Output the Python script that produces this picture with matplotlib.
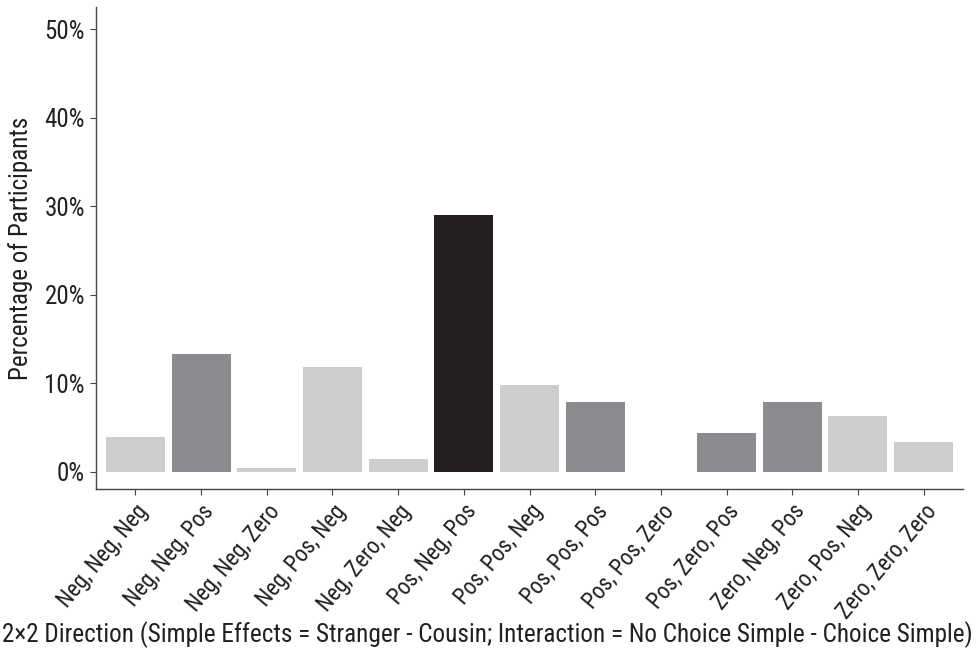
import matplotlib
matplotlib.use("Agg")
import matplotlib.pyplot as plt
from matplotlib.ticker import FuncFormatter

plt.rcParams["font.family"] = ["Roboto Condensed", "DejaVu Sans"]

categories = ["Neg, Neg, Neg", "Neg, Neg, Pos", "Neg, Neg, Zero", "Neg, Pos, Neg",
              "Neg, Zero, Neg", "Pos, Neg, Pos", "Pos, Pos, Neg", "Pos, Pos, Pos",
              "Pos, Pos, Zero", "Pos, Zero, Pos", "Zero, Neg, Pos", "Zero, Pos, Neg",
              "Zero, Zero, Zero"]
values = [3.9, 13.3, 0.45, 11.8, 1.4, 29.0, 9.8, 7.9, 0.0, 4.4, 7.9, 6.35, 3.4]
groups = ["light", "mid", "light", "light", "light", "dark", "light", "mid",
          "light", "mid", "mid", "light", "light"]
palette = {"light": "#cccdcf", "mid": "#8b8c90", "dark": "#231f20"}
yticks = [0, 10, 20, 30, 40, 50]

fig = plt.figure(figsize=(9.77, 6.53), dpi=100)
ax = fig.add_axes([96/977, 1-489/653, (963-96)/977, (489-7)/653])

x = list(range(1, len(categories)+1))
ax.bar(x, values, width=0.9, color=[palette[g] for g in groups], linewidth=0)

ax.set_xlim(0.4, 13.6)
ax.set_ylim(-1.95, 52.5)
ax.set_yticks(yticks)
ax.yaxis.set_major_formatter(FuncFormatter(lambda v, p: f"{v:.0f}%"))
ax.set_xticks(x)
ax.set_xticklabels(categories, rotation=50, ha="right", rotation_mode="anchor",
                   fontsize=16.3, color="#231f20")
for s in ["top", "right"]:
    ax.spines[s].set_visible(False)
for s in ["left", "bottom"]:
    ax.spines[s].set_color("#444444")
    ax.spines[s].set_linewidth(1.0)
ax.tick_params(axis="both", colors="#444444", length=4, width=0.8)
ax.tick_params(axis="y", labelsize=18, labelcolor="#231f20", pad=4)
ax.tick_params(axis="x", labelcolor="#231f20", pad=4)

ax.set_ylabel("Percentage of Participants", fontsize=18, color="#231f20")
ax.yaxis.set_label_coords(-0.073, 0.499)
ax.set_xlabel("2\u00d72 Direction (Simple Effects = Stranger - Cousin; Interaction = No Choice Simple - Choice Simple)",
              fontsize=18.2, color="#231f20")
ax.xaxis.set_label_coords(0.4516, -0.274)

fig.savefig("out.png", dpi=100, facecolor="white")
